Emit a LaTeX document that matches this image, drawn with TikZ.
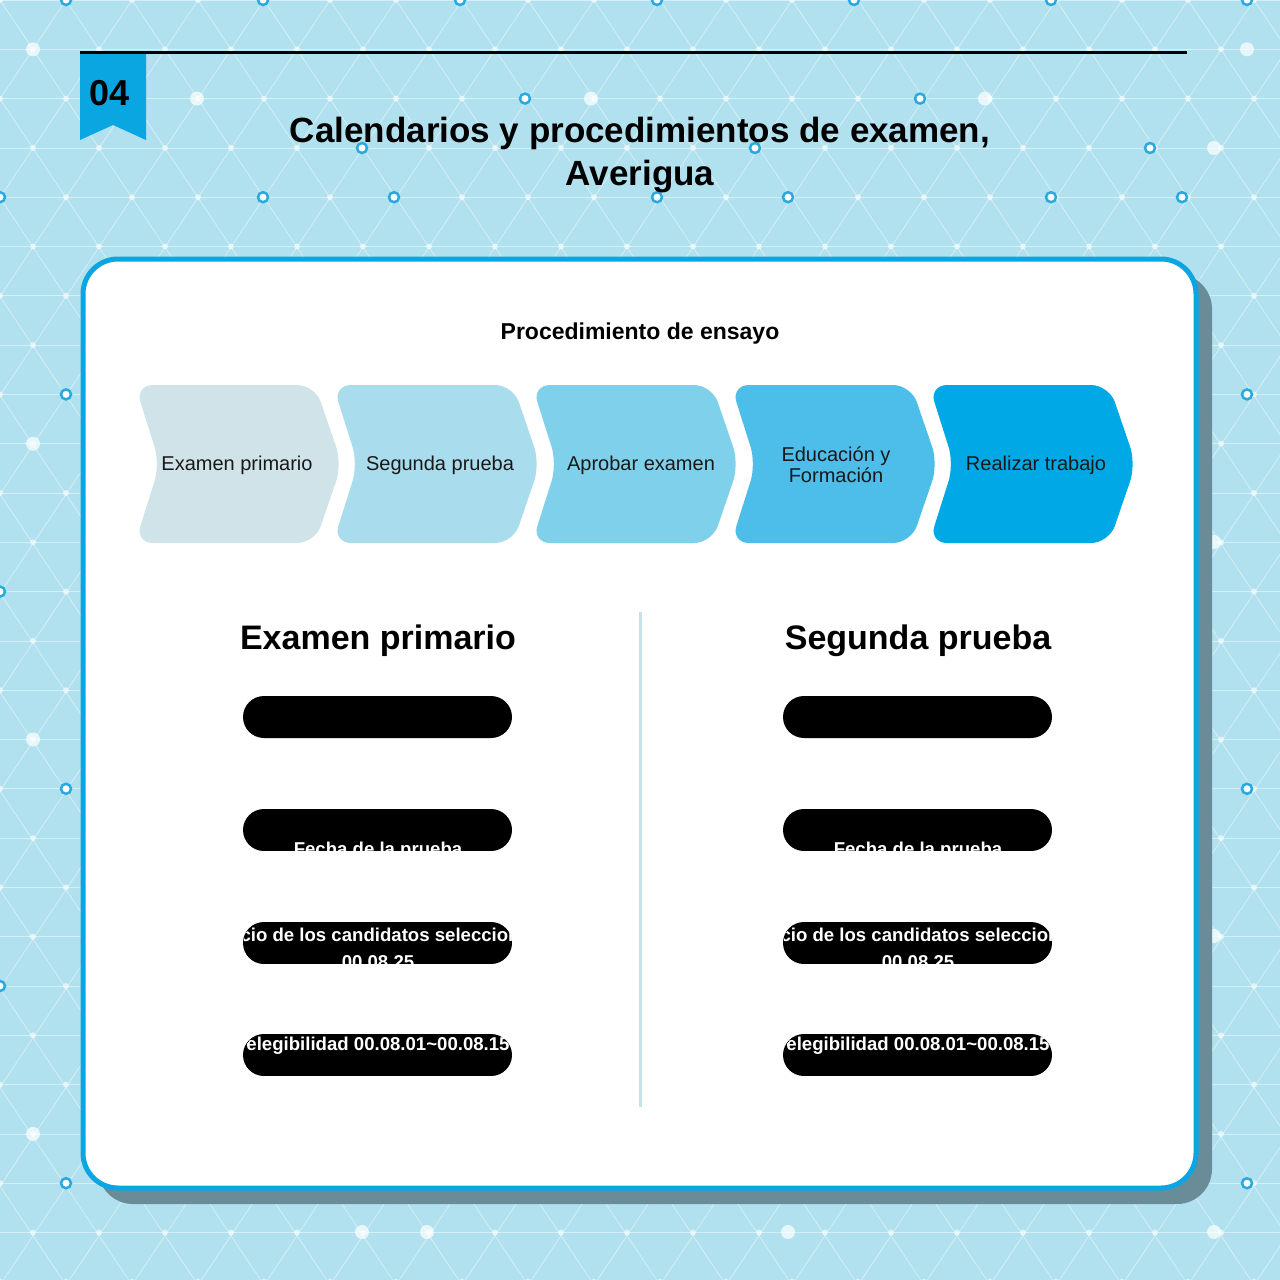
\documentclass[tikz,border=0pt]{standalone}
\usepackage{fontspec}
\setmainfont{Liberation Sans}
\begin{document}
\begin{tikzpicture}[x=1pt,y=-1pt,
  chev/.style={rounded corners=18pt},
  pill/.style={fill=black,rounded corners=21pt},
  ptext/.style={text=white,font=\bfseries\fontsize{18.6}{20}\selectfont,inner sep=0pt},
  ctext/.style={font=\fontsize{20}{22}\selectfont,align=center,text=black!90}]
\definecolor{bg}{HTML}{B1E1EE}
\definecolor{grid}{HTML}{D4EFF7}
\definecolor{ring}{HTML}{2AA9E0}
\definecolor{accent}{HTML}{0AA6E2}
\definecolor{cA}{HTML}{CFE3E8}
\definecolor{cB}{HTML}{A9DCEC}
\definecolor{cC}{HTML}{7FD0EA}
\definecolor{cD}{HTML}{4DBDE9}
\definecolor{cE}{HTML}{00A8E6}
\definecolor{shadow}{HTML}{6A8C98}
\useasboundingbox (0,0) rectangle (1280,1280);
\fill[bg] (0,0) rectangle (1280,1280);
\begin{scope}
\clip (0,0) rectangle (1280,1280);
\foreach \r in {0,...,26} \draw[grid,line width=0.8pt] (0,{\r*49.3}) -- (1280,{\r*49.3});
\foreach \k in {-14,...,34} {
  \draw[grid,line width=0.8pt] ({\k*66},0) -- ({\k*66+856},1282);
  \draw[grid,line width=0.8pt] ({\k*66},0) -- ({\k*66-856},1282);}
\foreach \r in {0,...,26} \foreach \c in {0,...,20}
  \fill[white,opacity=0.6] ({\c*66+mod(\r,2)*33},{\r*49.3}) circle (3);
\foreach \p in {(33,49.3),(197,98.6),(591,98.6),(985,98.6),(33,443.7),(33,739.5),(33,1133.9),(1247,49.3),(1214,148),(1214,542),(1214,936),(1214,1232),(362,1232),(788,1232),(427,1232)}
  \fill[white,opacity=0.7] \p circle (7);
\foreach \p in {(66,0),(263,0),(460,0),(657,0),(854,0),(1051,0),(1247,0),(0,197.2),(263,197.2),(394,197.2),(657,197.2),(788,197.2),(1051,197.2),(1182,197.2),(525,98.6),(920,98.6),(1150,148),(362,148),(755,148),(66,394.4),(1247,394.4),(0,591.6),(66,788.8),(1247,788.8),(0,986),(66,1183.2),(1247,1183.2)}
  \draw[ring,line width=2.5pt,fill=white] \p circle (5);
\end{scope}
% header
\draw[black,line width=3pt] (80,52) -- (1187,52);
\fill[accent] (80,54) -- (146,54) -- (146,140) -- (113,125) -- (80,140) -- cycle;
\node[font=\bfseries\fontsize{36}{40}\selectfont] (num) at (110,93) {04};
\node[font=\bfseries\fontsize{35}{43}\selectfont,align=center] (title) at (640,155) {Calendarios y procedimientos de examen,\\Averigua};
% card
\fill[shadow,rounded corners=35pt] (98,274) rectangle (1212,1204);
\draw[accent,line width=5pt,fill=white,rounded corners=35pt] (83,259) rectangle (1196,1188);
\node[font=\bfseries\fontsize{23}{26}\selectfont] (proc) at (640,334) {Procedimiento de ensayo};
% chevrons
\foreach \x/\c in {135/cA,333/cB,532/cC,731/cD,929/cE}
  \fill[\c,chev] (\x,385) -- ({\x+180},385) -- ({\x+207},464) -- ({\x+180},543) -- (\x,543) -- ({\x+25},464) -- cycle;
\node[ctext] (s1) at (237,465) {Examen primario};
\node[ctext] (s2) at (440,465) {Segunda prueba};
\node[ctext] (s3) at (641,465) {Aprobar examen};
\node[ctext] (s4) at (836,465) {Educación y\\[-1pt]Formación};
\node[ctext] (s5) at (1036,465) {Realizar trabajo};
% divider
\draw[cA!80!cB,line width=3pt] (640,612) -- (640,1107);
\foreach \cx/\h in {378/Examen primario,918/Segunda prueba} {
  \node[font=\bfseries\fontsize{34}{38}\selectfont] at (\cx,641) {\h};
  \fill[pill] ({\cx-135},696) rectangle ({\cx+134},738);
  \begin{scope}
    \clip[rounded corners=21pt] ({\cx-135},809) rectangle ({\cx+134},851);
    \fill[black] ({\cx-135},809) rectangle ({\cx+134},851);
    \node[ptext] at (\cx,851) {Fecha de la prueba};
  \end{scope}
  \begin{scope}
    \clip[rounded corners=21pt] ({\cx-135},922) rectangle ({\cx+134},964);
    \fill[black] ({\cx-135},922) rectangle ({\cx+134},964);
    \node[ptext] at (\cx,935) {Anuncio de los candidatos seleccionados};
    \node[ptext] at (\cx,962) {00.08.25};
  \end{scope}
  \begin{scope}
    \clip[rounded corners=21pt] ({\cx-135},1034) rectangle ({\cx+134},1076);
    \fill[black] ({\cx-135},1034) rectangle ({\cx+134},1076);
    \node[ptext] at (\cx,1046) {elegibilidad 00.08.01\textasciitilde 00.08.15};
  \end{scope}}
\end{tikzpicture}
\end{document}
